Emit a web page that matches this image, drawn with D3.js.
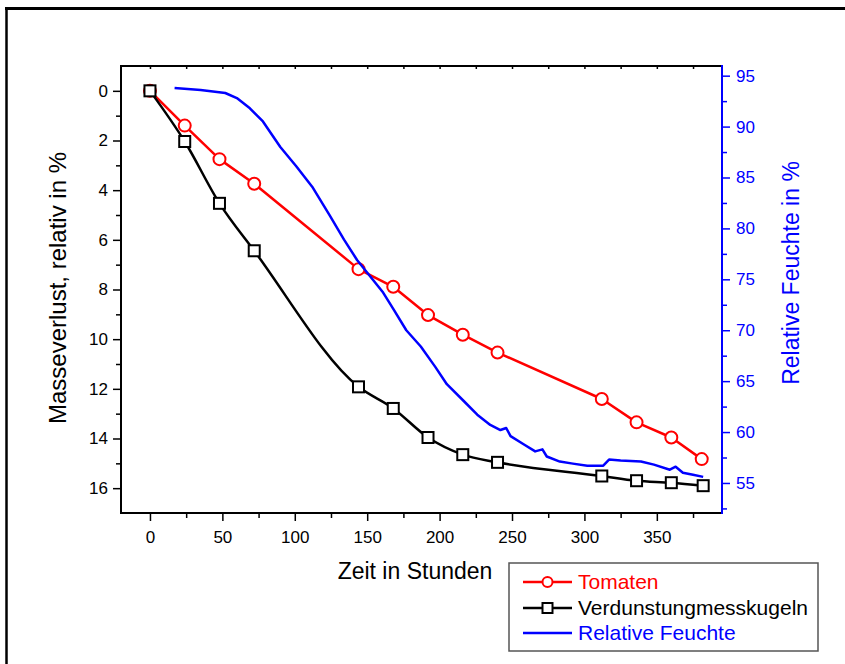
<!DOCTYPE html>
<html><head><meta charset="utf-8">
<script src="https://cdn.jsdelivr.net/npm/d3@7"></script>
<style>
body{margin:0;background:#fff}
svg{display:block}
text{font-family:"Liberation Sans",Arial,sans-serif}
</style>
</head><body>
<svg id="chart" width="845" height="664"></svg>
<script>
// ---- data ----
const tomHours = [0, 24, 48, 72, 144, 168, 192, 216, 240, 312, 336, 360, 381];
const tomLoss  = [0, 1.40, 2.75, 3.74, 7.18, 7.89, 9.03, 9.82, 10.54, 12.41, 13.35, 13.96, 14.83];
const kugHours = [0, 24, 48, 72, 144, 168, 192, 216, 240, 312, 336, 360, 382];
const kugLoss  = [0, 2.04, 4.53, 6.44, 11.92, 12.79, 13.96, 14.65, 14.96, 15.51, 15.70, 15.78, 15.90];
const rhHours  = [17, 35, 52, 60, 69, 78, 90, 101, 112, 124, 134, 143, 152, 161, 168, 177, 187, 197, 205, 217, 226, 235, 242, 246, 249, 258, 266, 271, 274, 283, 292, 302, 313, 317, 325, 339, 348, 359, 363, 368, 375, 382];
const rhValues = [93.8, 93.6, 93.3, 92.8, 91.8, 90.5, 88.0, 86.1, 84.1, 81.3, 78.9, 76.9, 75.3, 73.7, 72.1, 70.0, 68.4, 66.4, 64.7, 63.0, 61.7, 60.7, 60.2, 60.4, 59.6, 58.8, 58.1, 58.3, 57.6, 57.1, 56.9, 56.7, 56.7, 57.3, 57.2, 57.1, 56.8, 56.3, 56.6, 56.0, 55.8, 55.6];
const xTicks      = [0, 50, 100, 150, 200, 250, 300, 350];
const xMinorTicks = [25, 75, 125, 175, 225, 275, 325, 375];
const xTopTicks   = [0, 25, 50, 75, 100, 125, 150, 175, 200, 225, 250, 275, 300, 325, 350, 375];
const yLeftTicks  = [0, 2, 4, 6, 8, 10, 12, 14, 16];
const yLeftMinor  = [1, 3, 5, 7, 9, 11, 13, 15];
const yRightTicks = [55, 60, 65, 70, 75, 80, 85, 90, 95];
const yRightMinor = [52.5, 57.5, 62.5, 67.5, 72.5, 77.5, 82.5, 87.5, 92.5];
const seriesNames = ["Tomaten", "Verdunstungmesskugeln", "Relative Feuchte"];
const xTitle = "Zeit in Stunden";
const yLeftTitle = "Masseverlust, relativ in %";
const yRightTitle = "Relative Feuchte in %";

// ---- layout ----
const L = 121, R = 722, T = 66, B = 513;
const RED = "#ff0000", BLUE = "#0000ff", BLACK = "#000000";

const svg = d3.select("#chart");

const x  = d3.scaleLinear().domain([-20, 395]).range([L, R]);
const yL = d3.scaleLinear().domain([-1, 17]).range([T, B]);
const yR = d3.scaleLinear().domain([52.05, 95.95]).range([B, T]);

// outer frame (top and left)
svg.append("line").attr("x1", 5).attr("x2", 845).attr("y1", 8.5).attr("y2", 8.5)
  .attr("stroke", "#000").attr("stroke-width", 3);
svg.append("line").attr("x1", 6.5).attr("x2", 6.5).attr("y1", 7).attr("y2", 664)
  .attr("stroke", "#000").attr("stroke-width", 2.5);

function styleAxis(g, color, fs) {
  g.select(".domain").remove();
  g.selectAll(".tick line").attr("stroke", color).attr("stroke-width", 1.5);
  g.selectAll(".tick text").attr("fill", color).style("font-size", fs + "px")
    .style("font-family", '"Liberation Sans",Arial,sans-serif');
}

// bottom axis
const gxMinor = svg.append("g").attr("transform", `translate(0,${B})`)
  .call(d3.axisBottom(x).tickValues(xMinorTicks).tickSize(5).tickFormat(""));
styleAxis(gxMinor, BLACK, 17);
const gx = svg.append("g").attr("transform", `translate(0,${B})`)
  .call(d3.axisBottom(x).tickValues(xTicks).tickSize(8).tickPadding(10).tickFormat(d3.format("d")));
styleAxis(gx, BLACK, 17);

// top axis (inward small ticks)
const gxt = svg.append("g").attr("transform", `translate(0,${T})`)
  .call(d3.axisBottom(x).tickValues(xTopTicks).tickSize(3).tickFormat(""));
styleAxis(gxt, BLACK, 17);

// left axis
const gylMinor = svg.append("g").attr("transform", `translate(${L},0)`)
  .call(d3.axisLeft(yL).tickValues(yLeftMinor).tickSize(5).tickFormat(""));
styleAxis(gylMinor, BLACK, 17);
const gyl = svg.append("g").attr("transform", `translate(${L},0)`)
  .call(d3.axisLeft(yL).tickValues(yLeftTicks).tickSize(8).tickPadding(5).tickFormat(d3.format("d")));
styleAxis(gyl, BLACK, 17);

// right axis
const gyrMinor = svg.append("g").attr("transform", `translate(${R},0)`)
  .call(d3.axisRight(yR).tickValues(yRightMinor).tickSize(5).tickFormat(""));
styleAxis(gyrMinor, BLUE, 17);
const gyr = svg.append("g").attr("transform", `translate(${R},0)`)
  .call(d3.axisRight(yR).tickValues(yRightTicks).tickSize(8).tickPadding(6).tickFormat(d3.format("d")));
styleAxis(gyr, BLUE, 17);

// axis frame lines
svg.append("line").attr("x1", L - 1).attr("x2", R).attr("y1", T).attr("y2", T).attr("stroke", BLACK).attr("stroke-width", 2);
svg.append("line").attr("x1", L - 1).attr("x2", R).attr("y1", B).attr("y2", B).attr("stroke", BLACK).attr("stroke-width", 2);
svg.append("line").attr("x1", L).attr("x2", L).attr("y1", T).attr("y2", B).attr("stroke", BLACK).attr("stroke-width", 2);
svg.append("line").attr("x1", R).attr("x2", R).attr("y1", T - 1).attr("y2", B + 1).attr("stroke", BLUE).attr("stroke-width", 2);

// titles
svg.append("text").attr("x", 415).attr("y", 579).attr("text-anchor", "middle")
  .style("font-size", "23px").attr("fill", BLACK).text(xTitle);
svg.append("text").attr("transform", `translate(66,288) rotate(-90)`)
  .attr("text-anchor", "middle").style("font-size", "24px").attr("fill", BLACK).text(yLeftTitle);
svg.append("text").attr("transform", `translate(799,273) rotate(-90)`)
  .attr("text-anchor", "middle").style("font-size", "23px").attr("fill", BLUE).text(yRightTitle);

// data
const tom = tomHours.map((h, i) => ({ h, v: tomLoss[i] }));
const kug = kugHours.map((h, i) => ({ h, v: kugLoss[i] }));
const rh  = rhHours.map((h, i) => ({ h, v: rhValues[i] }));

const lineTom = d3.line().x(d => x(d.h)).y(d => yL(d.v));
const lineKug = d3.line().x(d => x(d.h)).y(d => yL(d.v)).curve(d3.curveMonotoneX);
const lineRh  = d3.line().x(d => x(d.h)).y(d => yR(d.v));

svg.append("path").datum(tom).attr("d", lineTom).attr("fill", "none")
  .attr("stroke", RED).attr("stroke-width", 2.5).attr("stroke-linejoin", "round");
svg.append("path").datum(kug).attr("d", lineKug).attr("fill", "none")
  .attr("stroke", BLACK).attr("stroke-width", 2.5).attr("stroke-linejoin", "round");

svg.append("g").selectAll("circle").data(tom).join("circle")
  .attr("cx", d => x(d.h)).attr("cy", d => yL(d.v)).attr("r", 6)
  .attr("fill", "#fff").attr("stroke", RED).attr("stroke-width", 2);
const sq = 11;
svg.append("g").selectAll("rect").data(kug).join("rect")
  .attr("x", d => x(d.h) - sq / 2).attr("y", d => yL(d.v) - sq / 2)
  .attr("width", sq).attr("height", sq)
  .attr("fill", "#fff").attr("stroke", BLACK).attr("stroke-width", 2);

svg.append("path").datum(rh).attr("d", lineRh).attr("fill", "none")
  .attr("stroke", BLUE).attr("stroke-width", 2.5).attr("stroke-linejoin", "round");

// legend
const lg = svg.append("g");
lg.append("rect").attr("x", 509).attr("y", 563).attr("width", 309).attr("height", 88)
  .attr("fill", "#fff").attr("stroke", "#555").attr("stroke-width", 1.5);
const legendRows = [
  { name: seriesNames[0], color: RED, marker: "circle", y: 582 },
  { name: seriesNames[1], color: BLACK, marker: "square", y: 608 },
  { name: seriesNames[2], color: BLUE, marker: "none", y: 633 }
];
legendRows.forEach(r => {
  lg.append("line").attr("x1", 523).attr("x2", 572).attr("y1", r.y).attr("y2", r.y)
    .attr("stroke", r.color).attr("stroke-width", 2.5);
  if (r.marker === "circle") {
    lg.append("circle").attr("cx", 547.5).attr("cy", r.y).attr("r", 5)
      .attr("fill", "#fff").attr("stroke", r.color).attr("stroke-width", 2);
  } else if (r.marker === "square") {
    lg.append("rect").attr("x", 547.5 - 5).attr("y", r.y - 5).attr("width", 10).attr("height", 10)
      .attr("fill", "#fff").attr("stroke", r.color).attr("stroke-width", 2);
  }
  lg.append("text").attr("x", 578).attr("y", r.y).attr("dy", "0.35em")
    .style("font-size", "21px").attr("fill", r.color).text(r.name);
});
</script>
</body></html>
